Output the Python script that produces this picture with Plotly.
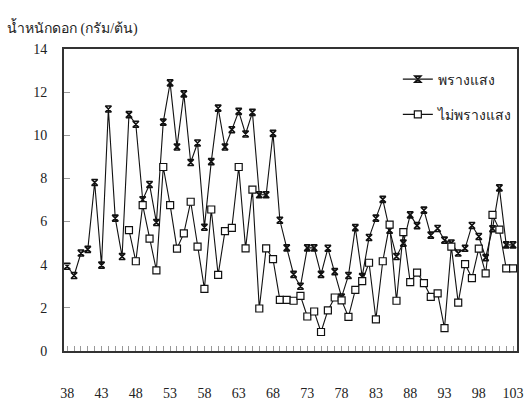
import plotly.graph_objects as go

days = list(range(38, 104))

shaded = [3.93, 3.50, 4.54, 4.71, 7.81, 3.98, 11.22, 6.16, 4.38, 10.96,
          10.51, 7.01, 7.72, 5.96, 10.61, 12.43, 9.46, 11.92, 8.74, 9.64,
          5.74, 8.78, 11.26, 9.46, 10.26, 11.11, 10.06, 11.06, 7.24, 7.24,
          10.09, 6.06, 4.78, 3.55, 3.00, 4.78, 4.78, 3.55, 4.76, 3.68,
          2.50, 3.50, 5.72, 3.45, 5.26, 6.16, 7.03, 5.60, 4.38, 5.00,
          6.31, 5.81, 6.53, 5.37, 5.68, 5.14, 5.01, 4.54, 4.76, 5.82,
          5.31, 4.33, 5.67, 7.56, 4.92, 4.92]

unshaded = [None, None, None, None, None, None, None, None, None, 5.60,
            4.16, 6.76, 5.21, 3.74, 8.53, 6.76, 4.75, 5.45, 6.92, 4.84,
            2.88, 6.56, 3.53, 5.56, 5.71, 8.53, 4.76, 7.48, 1.97, 4.76,
            4.26, 2.37, 2.37, 2.33, 2.56, 1.60, 1.83, 0.88, 1.88, 2.48,
            2.35, 1.58, 2.83, 3.24, 4.09, 1.47, 4.16, 5.86, 2.33, 5.51,
            3.19, 3.63, 3.15, 2.51, 2.67, 1.06, 4.84, 2.24, 4.03, 3.38,
            4.75, 3.60, 6.31, 5.63, 3.83, 3.83]

x_ticks = [38, 43, 48, 53, 58, 63, 68, 73, 78, 83, 88, 93, 98, 103]
y_ticks = [0, 2, 4, 6, 8, 10, 12, 14]

names = ["พรางแสง", "ไม่พรางแสง"]
y_title = "น้ำหนักดอก (กรัม/ต้น)"

serif = "Liberation Serif, Times New Roman, serif"

fig = go.Figure()
fig.add_trace(go.Scatter(
    x=days, y=shaded, name=names[0], mode="lines+markers",
    line=dict(color="#111111", width=1.1),
    marker=dict(symbol="hourglass-open", size=6, color="#111111",
                line=dict(width=1.6, color="#111111")),
    legendgroup="a",
))
fig.add_trace(go.Scatter(
    x=days, y=unshaded, name=names[1], mode="lines+markers",
    line=dict(color="#111111", width=1.1),
    marker=dict(symbol="square", size=7, color="white",
                line=dict(width=1.2, color="#111111")),
    legendgroup="b",
))

W, H = 530, 407
L, R, T, B = 64, 6, 49, 47
pw, ph = W - L - R, H - T - B

fig.update_layout(
    width=W, height=H,
    margin=dict(l=L, r=R, t=T, b=B),
    paper_bgcolor="white", plot_bgcolor="white",
    font=dict(family=serif, size=14, color="#222222"),
    showlegend=True,
    legend=dict(x=(403 - L) / pw, y=(H - B - 64) / ph, xanchor="left", yanchor="top",
                bgcolor="rgba(0,0,0,0)", itemwidth=30, tracegroupgap=14,
                traceorder="grouped", font=dict(size=14)),
    xaxis=dict(range=[37.53, 103.57], tickmode="array", tickvals=x_ticks,
               ticktext=[str(v) for v in x_ticks],
               showgrid=False, zeroline=False,
               showline=True, linecolor="#333333", linewidth=2, mirror=True,
               ticks="inside", ticklen=5, tickcolor="#999999", tickwidth=1,
               ticklabelstandoff=28,
               minor=dict(dtick=1, tick0=38, ticks="inside", ticklen=5,
                          tickcolor="#999999", tickwidth=1, showgrid=False),
               tickfont=dict(family=serif, size=14, color="#222222")),
    yaxis=dict(range=[0, 14], tickmode="array", tickvals=y_ticks,
               showgrid=False, zeroline=False,
               showline=True, linecolor="#333333", linewidth=2, mirror=True,
               ticks="inside", ticklen=6, tickcolor="#999999", tickwidth=1,
               ticklabelstandoff=12,
               tickfont=dict(family=serif, size=14, color="#222222")),
)

fig.add_annotation(text=y_title, xref="paper", yref="paper",
                   x=(4 - L) / pw, y=(H - B - 27) / ph,
                   xanchor="left", yanchor="middle", showarrow=False,
                   font=dict(family=serif, size=14, color="#222222"))

fig.write_html("out.html")
